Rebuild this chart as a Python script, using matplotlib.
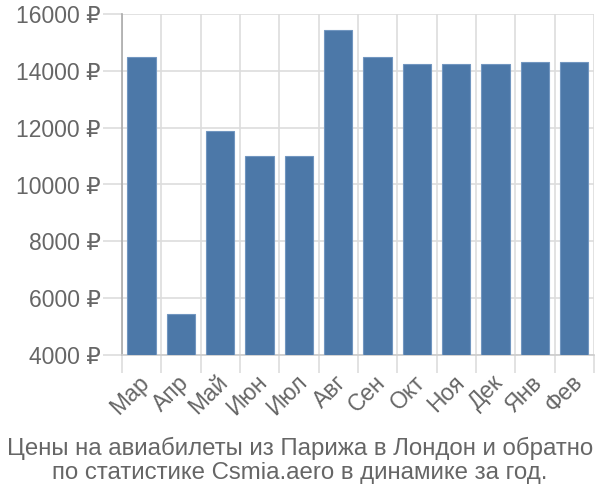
import matplotlib.pyplot as plt
import numpy as np

months = ["Мар", "Апр", "Май", "Июн", "Июл", "Авг", "Сен", "Окт", "Ноя", "Дек", "Янв", "Фев"]
prices = [14500, 5450, 11880, 11000, 11000, 15430, 14500, 14240, 14240, 14240, 14320, 14320]
yticks = [4000, 6000, 8000, 10000, 12000, 14000, 16000]
title = "Цены на авиабилеты из Парижа в Лондон и обратно\nпо статистике Csmia.aero в динамике за год."

plt.rcParams['font.family'] = ['Liberation Sans', 'DejaVu Sans']

fig = plt.figure(figsize=(6, 5), dpi=100)
ax = fig.add_axes([0.203, 0.29, 0.787, 0.682])

x = np.arange(len(months))
ax.bar(x, np.array(prices) - 4000, bottom=4000, width=0.72,
       color='#4c78a8', edgecolor='#7196c0', linewidth=0.8, zorder=3)

ax.set_xlim(-0.5, len(months) - 0.5)
ax.set_ylim(4000, 16000)

# gridlines
for b in np.arange(-0.5, len(months), 1.0):
    ax.axvline(b, color='#dddddd', linewidth=1.2, zorder=1)
for t in yticks:
    ax.axhline(t, color='#dddddd', linewidth=1.2, zorder=1)

ax.set_yticks(yticks)
ax.set_yticklabels([f"{t} ₽" for t in yticks], fontsize=16.5, color='#666666')
ax.tick_params(axis='y', length=14, color='#dddddd', width=1.2, pad=1)

ax.set_xticks(np.arange(-0.5, len(months), 1.0))
ax.set_xticklabels([])
ax.tick_params(axis='x', length=13, color='#dddddd', width=1.2)
for xi, m in zip(x, months):
    ax.text(xi - 0.1, 3450, m, rotation=45, ha='right', va='top',
            fontsize=16.5, color='#666666', rotation_mode='anchor')

for s in ['top', 'right']:
    ax.spines[s].set_visible(False)
ax.spines['left'].set_color('#aaaaaa')
ax.spines['left'].set_linewidth(1.2)
ax.spines['bottom'].set_color('#cccccc')
ax.spines['bottom'].set_linewidth(1.2)

fig.text(0.5, 0.08, title, ha='center', va='center', fontsize=17.3,
         color='#666666', linespacing=1.12)

fig.savefig('out.png')
